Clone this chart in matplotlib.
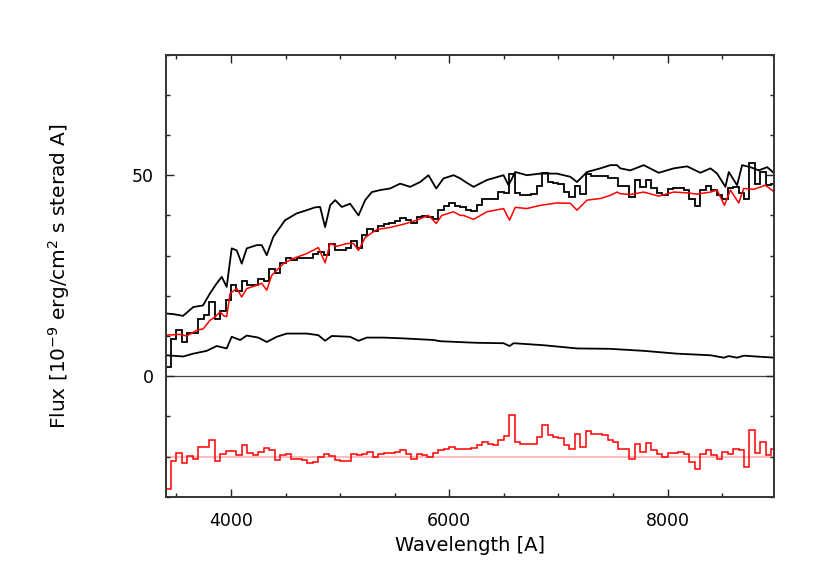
import numpy as np
import matplotlib
matplotlib.use('Agg')
import matplotlib.pyplot as plt

# observed spectrum, 50 A bins starting at 3400 A
bin_start = 3400
bin_width = 50
obs_flux = [
    2.2, 9.3, 11.4, 8.6, 10.7, 10.8, 14.2, 15.1, 18.4, 14.3,
    16.2, 18.9, 22.7, 21.1, 23.8, 22.8, 22.8, 24.2, 23.7, 26.6,
    25.7, 28.2, 29.3, 28.8, 29.3, 29.4, 29.3, 30.3, 30.9, 30.2,
    32.9, 31.4, 31.5, 31.8, 33.6, 31.8, 35.0, 36.6, 36.1, 37.4,
    37.8, 38.0, 38.6, 39.4, 38.9, 38.1, 39.7, 39.9, 39.6, 39.1,
    41.4, 42.4, 43.2, 42.4, 42.0, 41.4, 41.2, 42.6, 44.2, 44.2,
    44.1, 45.7, 45.5, 50.3, 45.6, 45.0, 45.0, 45.4, 47.4, 50.5,
    48.2, 48.0, 47.8, 45.8, 44.6, 47.2, 45.4, 50.2, 49.7, 49.9,
    49.9, 49.2, 49.2, 47.4, 47.3, 44.7, 48.7, 47.0, 48.9, 46.7,
    45.5, 45.1, 46.5, 46.7, 46.9, 46.3, 44.1, 42.3, 46.2, 47.4,
    46.4, 45.0, 44.0, 46.9, 47.0, 45.6, 44.0, 53.1, 47.8, 50.9,
    47.5, 47.8,
]

# residual (data - model), same bins
resid = [
    -8.0, -1.0, 1.0, -1.5, 0.2, -0.5, 2.5, 2.3, 4.2, -1.0,
    0.7, 1.4, 1.4, 0.3, 2.8, 0.8, 0.3, 1.2, 2.2, 1.6,
    -0.9, 0.3, 0.7, -0.5, -0.5, -0.9, -1.6, -1.3, -0.1, 0.7,
    0.1, -0.9, -1.2, -1.2, 0.7, 0.3, 0.7, 1.2, -0.2, 0.7,
    0.9, 0.9, 1.2, 1.6, 0.7, -0.5, 0.7, 0.3, -0.2, 0.9,
    1.6, 2.0, 2.4, 2.0, 2.0, 1.8, 2.2, 2.8, 3.6, 3.2,
    2.8, 4.1, 5.0, 10.3, 3.6, 3.2, 3.2, 3.2, 4.9, 7.8,
    5.3, 4.9, 4.7, 2.8, 2.0, 5.7, 2.4, 6.4, 5.7, 5.7,
    5.3, 4.2, 3.6, 2.0, 2.0, -0.5, 3.2, 1.2, 3.4, 1.6,
    0.7, -0.1, 0.9, 0.9, 1.2, 0.7, -1.3, -3.0, 0.7, 1.7,
    0.3, -0.5, 1.2, 0.7, 2.0, 1.6, -2.6, 6.6, 1.0, 3.6,
    0.5, 2.0,
]

# model fit (red)
model_wave = [3410, 3532, 3594, 3685, 3746, 3807, 3853, 3899, 3935, 3960, 3991,
              4052, 4098, 4144, 4236, 4281, 4327, 4373, 4480, 4571, 4694, 4800,
              4862, 4908, 4969, 5061, 5122, 5168, 5229, 5336, 5458, 5580, 5702,
              5809, 5880, 5932, 6039, 6100, 6130, 6222, 6345, 6497, 6552, 6604,
              6711, 6834, 6986, 7109, 7170, 7262, 7384, 7476, 7537, 7567, 7659,
              7781, 7919, 8056, 8179, 8270, 8393, 8454, 8521, 8576, 8652, 8698,
              8790, 8897, 8980]
model_flux = [10.2, 10.4, 10.0, 11.4, 11.8, 13.9, 14.7, 16.0, 15.0, 14.8, 20.6,
              21.8, 19.7, 21.8, 22.6, 23.1, 21.4, 25.1, 28.0, 29.3, 30.5, 32.0,
              28.2, 33.0, 32.3, 33.0, 33.0, 31.3, 34.5, 36.5, 37.0, 37.8, 38.8,
              40.0, 38.0, 40.0, 40.9, 40.0, 40.0, 39.0, 40.9, 41.7, 38.8, 42.0,
              41.7, 42.5, 43.1, 43.0, 41.3, 43.8, 44.2, 45.0, 45.8, 45.4, 45.2,
              45.8, 44.8, 45.8, 45.6, 45.3, 45.8, 46.3, 42.5, 46.3, 43.1, 46.7,
              46.5, 47.5, 45.8]

# upper black curve
upper_wave = [3404, 3480, 3560, 3654, 3743, 3807, 3869, 3915, 3960, 4006, 4052,
              4098, 4144, 4236, 4281, 4327, 4388, 4495, 4602, 4694, 4770, 4816,
              4862, 4908, 4954, 5015, 5091, 5168, 5229, 5290, 5366, 5458, 5550,
              5641, 5733, 5809, 5880, 5947, 6039, 6100, 6149, 6222, 6345, 6497,
              6543, 6604, 6711, 6834, 6986, 7109, 7170, 7262, 7384, 7476, 7537,
              7567, 7659, 7781, 7919, 8056, 8179, 8301, 8393, 8454, 8530, 8561,
              8637, 8683, 8759, 8836, 8913, 8980]
upper_flux = [15.6, 15.4, 15.0, 17.2, 17.6, 20.6, 23.1, 24.7, 22.2, 31.8, 31.3,
              28.0, 31.8, 32.6, 32.6, 30.1, 34.7, 38.8, 40.5, 41.3, 42.0, 42.1,
              37.1, 42.5, 43.8, 42.1, 42.9, 40.0, 43.8, 45.8, 46.3, 46.7, 47.9,
              47.1, 48.3, 50.0, 46.7, 49.2, 50.0, 49.2, 48.3, 47.1, 48.8, 50.0,
              47.5, 50.8, 50.0, 50.4, 50.4, 49.6, 48.3, 50.8, 51.7, 52.5, 52.5,
              51.7, 51.2, 52.5, 50.6, 51.7, 52.2, 50.6, 51.7, 50.4, 47.1, 50.8,
              47.5, 52.5, 52.0, 51.2, 52.0, 50.4]

# lower black curve
lower_wave = [3404, 3563, 3654, 3777, 3869, 3960, 4006, 4083, 4144, 4250, 4327,
              4419, 4511, 4694, 4800, 4862, 4923, 5091, 5168, 5244, 5397, 5580,
              5855, 5916, 6161, 6253, 6497, 6552, 6589, 6864, 7170, 7476, 7781,
              8087, 8393, 8516, 8560, 8637, 8698, 8980]
lower_flux = [5.2, 4.9, 5.6, 6.3, 7.5, 6.9, 9.8, 9.0, 10.1, 9.6, 8.5,
              9.8, 10.6, 10.6, 10.2, 8.8, 10.0, 9.8, 8.8, 9.6, 9.6, 9.4,
              9.0, 8.7, 8.4, 8.3, 8.2, 7.5, 8.2, 7.7, 6.9, 6.8, 6.3,
              5.6, 5.2, 4.6, 5.0, 4.6, 5.1, 4.6]

resid_offset = -20

edges = bin_start + bin_width * np.arange(len(obs_flux) + 1)

fig = plt.figure(figsize=(8.3, 5.81), dpi=100)
ax = fig.add_axes([0.2, 0.145, 0.7325, 0.761])

ax.axhline(0, color='#444444', lw=0.9, zorder=1)
ax.axhline(resid_offset, color='#ffb3b3', lw=1.2, zorder=1)

ax.plot(upper_wave, upper_flux, color='black', lw=1.3)
ax.plot(lower_wave, lower_flux, color='black', lw=1.3)
ax.stairs(obs_flux, edges, baseline=None, color='black', lw=1.3)
ax.plot(model_wave, model_flux, color='red', lw=1.1)
ax.stairs(np.array(resid) + resid_offset, edges, baseline=None, color='red', lw=1.1)

ax.set_xlim(3404, 8975)
ax.set_ylim(-30, 80)
ax.set_xticks([4000, 6000, 8000])
ax.set_xticks(np.arange(3500, 9000, 500), minor=True)
ax.set_yticks([0, 50])
ax.set_yticks(np.arange(-30, 81, 10), minor=True)

ax.tick_params(which='both', direction='in', top=True, right=True,
               width=1.0, colors='#222222', labelcolor='black')
ax.tick_params(which='major', length=6, labelsize=12.5)
ax.tick_params(which='minor', length=3)
ax.tick_params(axis='x', which='major', pad=11)
ax.tick_params(axis='y', which='major', pad=9)
for s in ax.spines.values():
    s.set_linewidth(1.4)
    s.set_color('#333333')

ax.set_xlabel('Wavelength [A]', fontsize=14, labelpad=4)
ax.set_ylabel(r'Flux [10$^{-9}$ erg/cm$^2$ s sterad A]', fontsize=14.5)
ax.yaxis.set_label_coords(-0.155, 0.5)

fig.savefig('out.png', dpi=100)
